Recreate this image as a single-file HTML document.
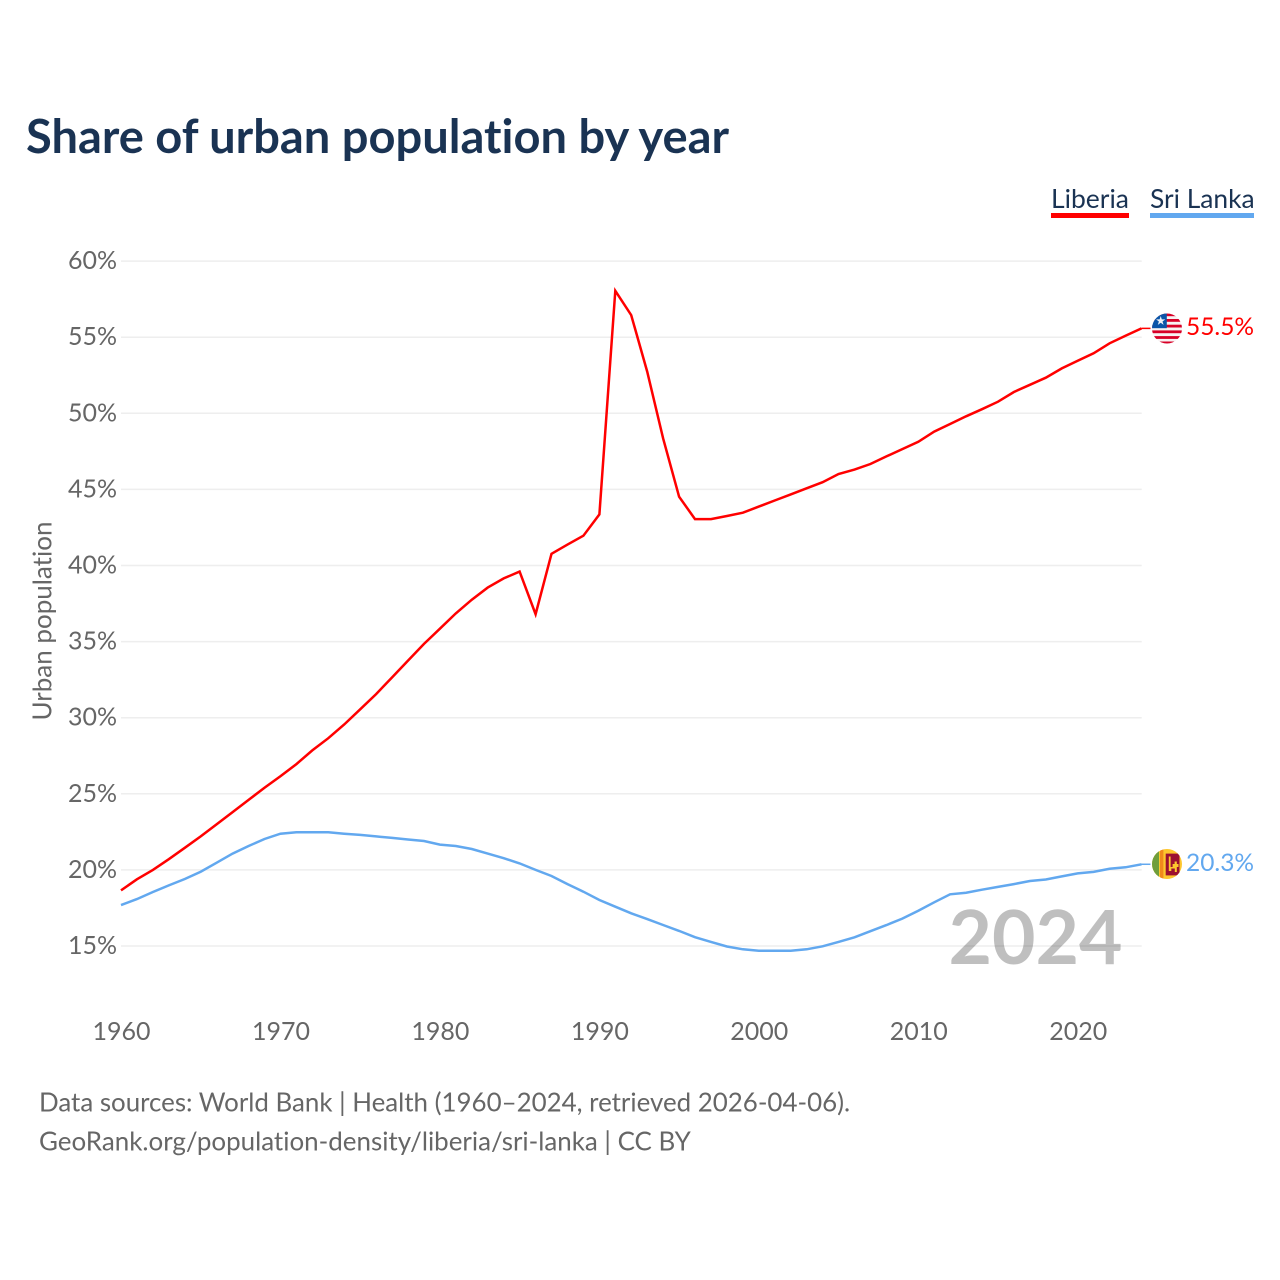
<!DOCTYPE html>
<html lang="en">
<head>
<meta charset="utf-8">
<title>Share of urban population by year</title>
<style>
html,body{margin:0;padding:0;background:#fff;width:1280px;height:1280px;overflow:hidden}
svg{display:block}
text{font-family:"Lato","Carlito","Liberation Sans",sans-serif;font-variant-ligatures:none}
</style>
</head>
<body>
<svg id="chart" xmlns="http://www.w3.org/2000/svg" width="1280" height="1280" viewBox="0 0 1280 1280">
<defs>
<clipPath id="clip-lr"><circle cx="1167" cy="328.5" r="15"/></clipPath>
<clipPath id="clip-lk"><circle cx="1167" cy="864" r="15"/></clipPath>
</defs>
<rect x="0" y="0" width="1280" height="1280" fill="#fff"/>
<text x="26" y="153" font-size="47.05" font-weight="700" fill="#1a3353">Share of urban population by year</text>
<g id="grid"></g>
<g id="yticks"></g>
<g id="xticks"></g>
<text transform="translate(51.5,621) rotate(-90)" text-anchor="middle" font-size="26" fill="#666">Urban population</text>
<text x="1122.5" y="964" text-anchor="end" font-size="75" font-weight="700" fill="#000" fill-opacity="0.25">2024</text>
<g id="series"></g>
<g>
<text x="1051" y="208" font-size="26.5" fill="#1a3353">Liberia</text>
<rect x="1051" y="213" width="78" height="5" fill="#ff0000"/>
</g>
<g>
<text x="1150" y="208" font-size="26.4" fill="#1a3353">Sri Lanka</text>
<rect x="1150" y="213" width="104" height="5" fill="#62a8ef"/>
</g>
<g clip-path="url(#clip-lr)">
<rect x="1152" y="313" width="30" height="31" fill="#f7f3f3"/>
<rect x="1152" y="313.4" width="30" height="2.8" fill="#d80027"/>
<rect x="1152" y="319" width="30" height="2.8" fill="#d80027"/>
<rect x="1152" y="324.7" width="30" height="2.8" fill="#d80027"/>
<rect x="1152" y="330.4" width="30" height="2.8" fill="#d80027"/>
<rect x="1152" y="336.1" width="30" height="2.8" fill="#d80027"/>
<rect x="1152" y="341.5" width="30" height="2.8" fill="#d80027"/>
<rect x="1152" y="313" width="14.8" height="15.2" fill="#0b55a8"/>
<polygon points="1160.7,316 1161.8,319.4 1165.3,319.4 1162.5,321.5 1163.6,324.9 1160.7,322.8 1157.8,324.9 1158.9,321.5 1156.1,319.4 1159.6,319.4" fill="#eef2f8"/>
</g>
<text x="1186" y="335" font-size="24.5" fill="#ff0000">55.5%</text>
<g clip-path="url(#clip-lk)">
<rect x="1152" y="849" width="30" height="30" fill="#fdc72e"/>
<rect x="1152" y="849" width="7" height="30" fill="#6f9e3c"/>
<rect x="1160" y="849" width="3.4" height="30" fill="#f08a1d"/>
<rect x="1165.7" y="853.6" width="13.8" height="21.8" fill="#9c1030"/>
<path d="M1168.8 856.5h1.8v10.5h2v-3h2v-2.5h2.2v2.5h1.7v3h-1.7v5h-2v-3.5h-3.5v2.5h-2.5z" fill="#fdc72e"/>
</g>
<text x="1186" y="871" font-size="24.5" fill="#62a8ef">20.3%</text>
<text x="39" y="1111.5" font-size="25.9" fill="#666">Data sources: World Bank | Health (1960–2024, retrieved 2026-04-06).</text>
<text x="39" y="1150.5" font-size="25.95" fill="#666">GeoRank.org/population-density/liberia/sri-lanka | CC BY</text>
</svg>
<script>
const years = [1960,1961,1962,1963,1964,1965,1966,1967,1968,1969,1970,1971,1972,1973,1974,1975,1976,1977,1978,1979,1980,1981,1982,1983,1984,1985,1986,1987,1988,1989,1990,1991,1992,1993,1994,1995,1996,1997,1998,1999,2000,2001,2002,2003,2004,2005,2006,2007,2008,2009,2010,2011,2012,2013,2014,2015,2016,2017,2018,2019,2020,2021,2022,2023,2024];
const liberia = [18.65,19.38,20.0,20.7,21.45,22.2,23.0,23.8,24.6,25.4,26.15,26.95,27.85,28.65,29.55,30.55,31.55,32.65,33.75,34.85,35.85,36.85,37.75,38.55,39.15,39.6,36.8,40.77,41.37,41.96,43.36,58.05,56.45,52.74,48.36,44.52,43.05,43.05,43.25,43.47,43.87,44.27,44.67,45.07,45.47,46.01,46.3,46.67,47.17,47.65,48.13,48.8,49.3,49.8,50.27,50.76,51.4,51.87,52.34,52.95,53.45,53.94,54.6,55.1,55.58];
const sriLanka = [17.69,18.08,18.55,18.98,19.4,19.88,20.47,21.07,21.57,22.03,22.38,22.47,22.47,22.47,22.38,22.3,22.2,22.1,22.0,21.9,21.66,21.57,21.37,21.07,20.77,20.43,20.0,19.6,19.07,18.57,18.02,17.58,17.15,16.77,16.38,15.99,15.58,15.27,14.97,14.78,14.69,14.69,14.69,14.78,14.98,15.27,15.57,15.97,16.37,16.8,17.32,17.87,18.4,18.5,18.7,18.88,19.07,19.27,19.37,19.57,19.77,19.87,20.07,20.17,20.37];
const yTickValues = [15,20,25,30,35,40,45,50,55,60];
const xTickValues = [1960,1970,1980,1990,2000,2010,2020];

const NS = 'http://www.w3.org/2000/svg';
function xScale(year){ return 121 + (year - 1960) * 15.945; }
function yScale(pct){ return 946 - (pct - 15) * 15.22; }
function make(tag, attrs, parent){
  const el = document.createElementNS(NS, tag);
  for (const k in attrs) el.setAttribute(k, attrs[k]);
  parent.appendChild(el);
  return el;
}
const grid = document.getElementById('grid');
const yticks = document.getElementById('yticks');
const xticks = document.getElementById('xticks');
const series = document.getElementById('series');

yTickValues.forEach(function(v){
  const line = make('line', {x1:121, x2:1141.7, y1:yScale(v), y2:yScale(v), stroke:'#eeeeee', 'stroke-width':1.5}, grid);
  
  
  const t = make('text', {x:117, y:yScale(v)+8, 'text-anchor':'end', 'font-size':25, fill:'#666'}, yticks);
  t.textContent = v + '%';
  
  
});
xTickValues.forEach(function(v){
  const t = make('text', {x:xScale(v)+0.5, y:1040, 'text-anchor':'middle', 'font-size':25, fill:'#666'}, xticks);
  t.textContent = v;
  
  
});
function drawLine(values, color){
  const pts = values.map(function(v, i){ return xScale(years[i]).toFixed(1) + ',' + yScale(v).toFixed(1); });
  return make('polyline', {points:pts.join(' '), fill:'none', stroke:color, 'stroke-width':2.5, 'stroke-linejoin':'miter'}, series);
}
function drawTail(values, color){
  const last = values[values.length - 1];
  const lastYear = years[years.length - 1];
  return make('line', {x1:xScale(lastYear), x2:xScale(lastYear)+9, y1:yScale(last), y2:yScale(last), stroke:color, 'stroke-width':1.5}, series);
}
const liberiaLine = drawLine(liberia, '#ff0000');


const sriLankaLine = drawLine(sriLanka, '#62a8ef');


const liberiaTail = drawTail(liberia, '#ff0000');


const sriLankaTail = drawTail(sriLanka, '#62a8ef');


</script>
</body>
</html>
